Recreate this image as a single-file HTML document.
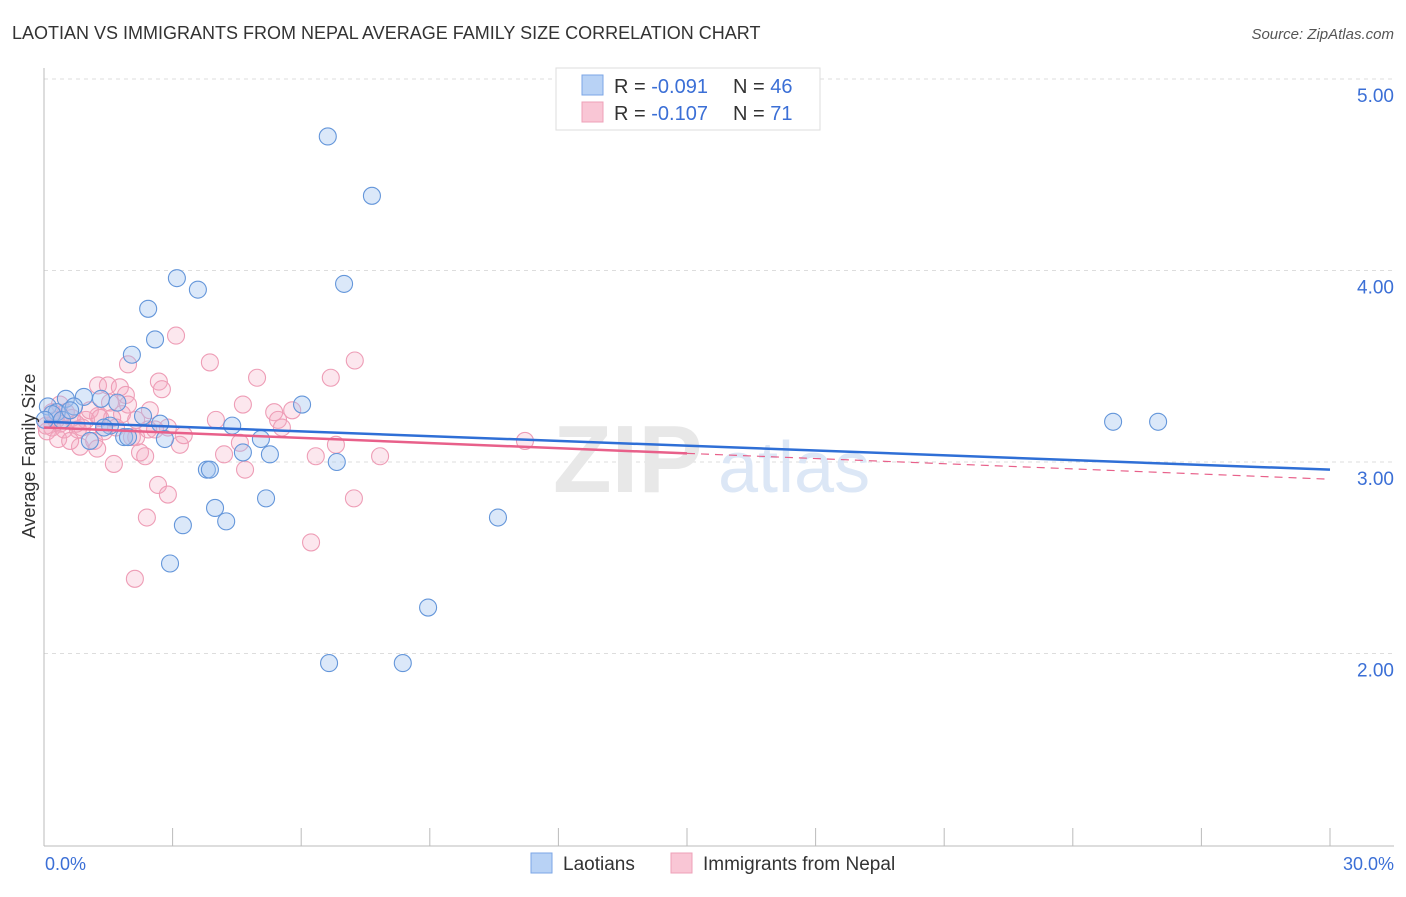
<!DOCTYPE html>
<html><head><meta charset="utf-8"><style>
body{margin:0;background:#fff;font-family:"Liberation Sans",sans-serif;}
svg text{font-family:"Liberation Sans",sans-serif;}
</style></head><body>
<svg id="chart" width="1406" height="892" xmlns="http://www.w3.org/2000/svg">
<text x="12" y="39" font-size="18" fill="#333">LAOTIAN VS IMMIGRANTS FROM NEPAL AVERAGE FAMILY SIZE CORRELATION CHART</text>
<text x="1394" y="39" font-size="15" fill="#555" font-style="italic" text-anchor="end">Source: ZipAtlas.com</text>
<g id="grid"></g>
<g id="watermark">
<text x="553" y="492" font-size="96" font-weight="bold" fill="#e8e8e8" font-family="Liberation Serif">ZIP</text>
<text x="718" y="492" font-size="72" fill="#dce7f6">atlas</text>
</g>
<g id="pts"></g>
<g id="trend"></g>
<text x="35" y="456" font-size="18" fill="#333" text-anchor="middle" transform="rotate(-90 35 456)">Average Family Size</text>
<text x="45" y="870" font-size="18" fill="#3b6fd6">0.0%</text>
<text x="1394" y="870" font-size="18" fill="#3b6fd6" text-anchor="end">30.0%</text>
<g>
<rect x="556" y="68" width="264" height="62" fill="#fff" stroke="#ddd"/>
<rect x="582" y="75" width="21" height="20" fill="#b8d2f5" stroke="#7ba6e6"/>
<rect x="582" y="102" width="21" height="20" fill="#f9c6d5" stroke="#eea0b8"/>
<text x="614" y="93" font-size="20" fill="#333">R = <tspan fill="#3b6fd6">-0.091</tspan></text>
<text x="733" y="93" font-size="20" fill="#333">N = <tspan fill="#3b6fd6">46</tspan></text>
<text x="614" y="120" font-size="20" fill="#333">R = <tspan fill="#3b6fd6"> -0.107</tspan></text>
<text x="733" y="120" font-size="20" fill="#333">N = <tspan fill="#3b6fd6"> 71</tspan></text>
</g>
<g>
<rect x="531" y="853" width="21" height="20" fill="#b8d2f5" stroke="#7ba6e6"/>
<text x="563" y="870" font-size="19" fill="#333">Laotians</text>
<rect x="671" y="853" width="21" height="20" fill="#f9c6d5" stroke="#eea0b8"/>
<text x="703" y="870" font-size="19" fill="#333">Immigrants from Nepal</text>
</g>
</svg>
<script>
const yTicks=[2,3,4,5];
const xTicks=[0,3,6,9,12,15,18,21,24,27,30];
const blueX=[6.62,7.65,3.10,3.59,7.00,2.43,2.59,2.05,0.51,0.93,1.33,1.71,0.70,0.09,0.30,2.31,2.71,4.39,6.02,1.54,1.87,2.82,5.06,5.27,4.64,6.83,3.80,3.87,5.18,3.99,4.25,3.24,2.94,10.59,8.96,6.65,8.37,24.94,25.99,0.19,0.42,1.07,1.96,1.40,0.61,0.02];
const blueY=[4.70,4.39,3.96,3.90,3.93,3.80,3.64,3.56,3.33,3.34,3.33,3.31,3.29,3.29,3.26,3.24,3.20,3.19,3.30,3.19,3.13,3.12,3.12,3.04,3.05,3.00,2.96,2.96,2.81,2.76,2.69,2.67,2.47,2.71,2.24,1.95,1.95,3.21,3.21,3.25,3.22,3.11,3.13,3.18,3.27,3.22];
const pinkX=[3.08,3.87,7.25,4.97,6.69,2.68,2.75,1.26,1.49,1.77,1.96,4.64,5.79,5.37,4.01,5.46,5.55,1.91,1.96,1.82,1.26,0.98,0.51,0.37,0.19,0.07,0.33,0.79,0.84,1.17,1.24,1.40,1.63,2.15,2.43,2.24,2.36,2.59,2.89,3.17,3.26,4.57,4.69,4.20,6.34,6.81,7.84,11.22,2.66,2.89,7.23,2.40,6.23,2.12,0.19,0.37,0.65,1.07,1.54,1.59,2.15,2.47,0.47,0.61,0.05,0.28,0.89,1.68,2.05,1.31,0.75];
const pinkY=[3.66,3.52,3.53,3.44,3.44,3.42,3.38,3.40,3.40,3.39,3.51,3.30,3.27,3.26,3.22,3.22,3.18,3.35,3.30,3.25,3.24,3.22,3.26,3.20,3.18,3.16,3.12,3.17,3.08,3.11,3.07,3.16,2.99,3.13,3.17,3.05,3.03,3.17,3.18,3.09,3.14,3.10,2.96,3.04,3.03,3.09,3.03,3.11,2.88,2.83,2.81,2.71,2.58,2.39,3.26,3.30,3.23,3.27,3.31,3.23,3.22,3.27,3.17,3.11,3.19,3.22,3.18,3.18,3.13,3.23,3.20];
const blueTrend=[3.21,2.96];
const pinkTrend=[3.18,2.91];
const NS='http://www.w3.org/2000/svg';
const X=v=>44+v/30*1286;
const Y=v=>79+(5-v)*191.5;
function mk(tag,attrs,parent){const e=document.createElementNS(NS,tag);for(const k in attrs)e.setAttribute(k,attrs[k]);parent.appendChild(e);return e;}
const grid=document.getElementById('grid');
yTicks.forEach(t=>{
  const l=mk('line',{x1:44,x2:1394,y1:Y(t),y2:Y(t),stroke:'#ddd','stroke-dasharray':'4,4'},grid);
  
  
  const tx=mk('text',{x:1394,y:Y(t)+23,'font-size':19,fill:'#3b6fd6','text-anchor':'end'},grid);
  tx.textContent=t.toFixed(2);
  
  
});
const ax=mk('line',{x1:44,x2:44,y1:68,y2:846,stroke:'#bbb'},grid);


const bx=mk('line',{x1:44,x2:1394,y1:846,y2:846,stroke:'#bbb'},grid);


xTicks.forEach(t=>{
  const l=mk('line',{x1:X(t),x2:X(t),y1:828,y2:846,stroke:'#bbb'},grid);
  
  
});
const pts=document.getElementById('pts');
pinkX.forEach((v,i)=>{
  const c=mk('circle',{cx:X(v),cy:Y(pinkY[i]),r:8.5,fill:'rgba(246,170,195,0.28)',stroke:'#ee9db6','stroke-width':1.1},pts);
  
  
});
blueX.forEach((v,i)=>{
  const c=mk('circle',{cx:X(v),cy:Y(blueY[i]),r:8.5,fill:'rgba(160,195,240,0.38)',stroke:'#6496da','stroke-width':1.1},pts);
  
  
});
const tr=document.getElementById('trend');
const pm=pinkTrend[0]+(pinkTrend[1]-pinkTrend[0])*0.5;
const p1=mk('line',{x1:X(0),y1:Y(pinkTrend[0]),x2:X(15),y2:Y(pm),stroke:'#e8608a','stroke-width':2.5},tr);


const p2=mk('line',{x1:X(15),y1:Y(pm),x2:X(30),y2:Y(pinkTrend[1]),stroke:'#e8608a','stroke-width':1.2,'stroke-dasharray':'8,6'},tr);


const b1=mk('line',{x1:X(0),y1:Y(blueTrend[0]),x2:X(30),y2:Y(blueTrend[1]),stroke:'#2f6fd6','stroke-width':2.5},tr);


</script>
</body></html>
